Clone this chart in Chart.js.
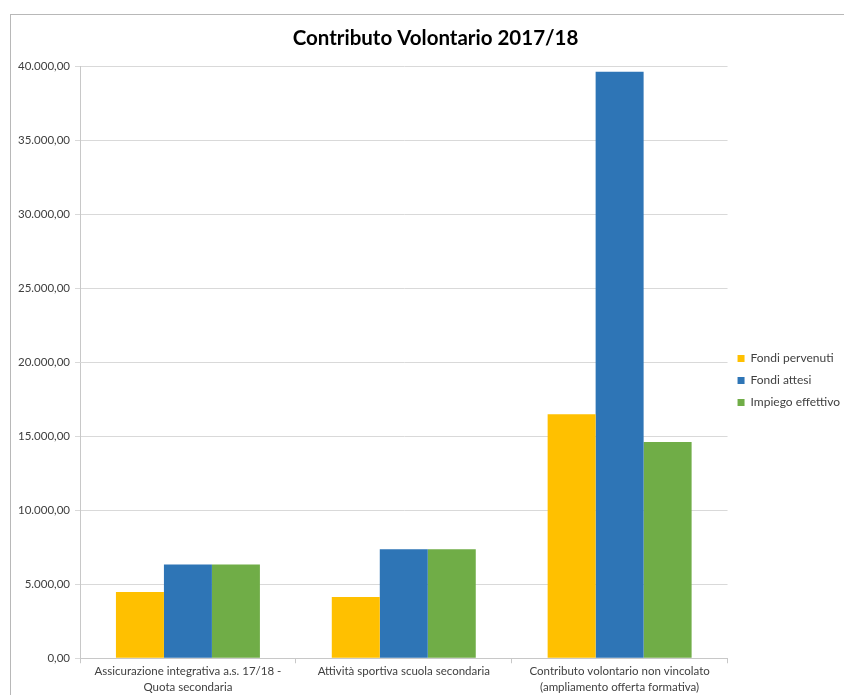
<!DOCTYPE html>
<html>
<head>
<meta charset="utf-8">
<script src="https://cdn.jsdelivr.net/npm/chart.js@4/dist/chart.umd.min.js"></script>
<style>
  html, body { margin: 0; padding: 0; background: #fff; }
  #wrap { width: 844px; height: 695px; position: relative; }
</style>
</head>
<body>
<div id="wrap"><canvas id="barChart"></canvas></div>
<script>
// Contributo Volontario 2017/18 - grouped bars
const categories = [
    ['Assicurazione integrativa a.s. 17/18 -', 'Quota secondaria'],
    'Attività sportiva scuola secondaria',
    ['Contributo volontario non vincolato', '(ampliamento offerta formativa)']
];
const fondiPervenuti = [4470, 4130, 16480];
const fondiAttesi = [6330, 7370, 39620];
const impiegoEffettivo = [6330, 7370, 14600];
const seriesNames = ['Fondi pervenuti', 'Fondi attesi', 'Impiego effettivo'];
const chartTitle = 'Contributo Volontario 2017/18';

const fontFamily = 'Lato, "Open Sans", sans-serif';

// format like 40.000,00
function itNumber(v) {
    const parts = Math.round(v).toString().replace(/\B(?=(\d{3})+(?!\d))/g, '.');
    return parts + ',00';
}

// grey frame and title, placed like the spreadsheet export
const framePlugin = {
    id: 'frame',
    beforeDraw(chart) {
        const c = chart.ctx;
        c.save();
        c.fillStyle = '#ffffff';
        c.fillRect(0, 0, chart.width, chart.height);
        c.strokeStyle = '#b8b8b8';
        c.lineWidth = 1;
        c.strokeRect(10.5, 14.5, chart.width, chart.height);
        c.fillStyle = '#000';
        c.font = 'bold 20.5px ' + fontFamily;
        c.textAlign = 'center';
        c.textBaseline = 'middle';
        c.fillText(chartTitle, 435.5, 38);
        c.restore();
    }
};

const ctx = document.getElementById('barChart').getContext('2d');
new Chart(ctx, {
    type: 'bar',
    data: {
        labels: categories,
        datasets: [
            { label: seriesNames[0], data: fondiPervenuti, backgroundColor: '#FFC000' },
            { label: seriesNames[1], data: fondiAttesi, backgroundColor: '#2E75B6' },
            { label: seriesNames[2], data: impiegoEffettivo, backgroundColor: '#70AD47' }
        ]
    },
    options: {
        responsive: true,
        maintainAspectRatio: false,
        animation: false,
        layout: { padding: { left: 0, right: -6, top: 66, bottom: 0 } },
        datasets: {
            bar: { categoryPercentage: 0.667, barPercentage: 1.0 }
        },
        plugins: {
            title: { display: false },
            legend: {
                position: 'right',
                labels: {
                    boxWidth: 7,
                    boxHeight: 7,
                    padding: 10,
                    color: '#404040',
                    font: { family: fontFamily, size: 12 }
                }
            },
            tooltip: { enabled: false }
        },
        scales: {
            x: {
                grid: {
                    offset: true,
                    drawOnChartArea: false,
                    tickLength: 5,
                    color: '#c8c8c8'
                },
                border: { color: '#c8c8c8' },
                ticks: {
                    color: '#404040',
                    padding: 0,
                    maxRotation: 0,
                    autoSkip: false,
                    font: { family: fontFamily, size: 11.5, lineHeight: 1.38 }
                }
            },
            y: {
                min: 0,
                max: 40000,
                ticks: {
                    stepSize: 5000,
                    color: '#404040',
                    padding: 5,
                    font: { family: fontFamily, size: 11.5 },
                    callback: (v) => itNumber(v)
                },
                grid: { color: '#d9d9d9', tickLength: 5 },
                border: { color: '#c8c8c8' },
                afterFit(scale) { scale.width = 80; }
            }
        }
    },
    plugins: [framePlugin]
});
</script>
</body>
</html>
